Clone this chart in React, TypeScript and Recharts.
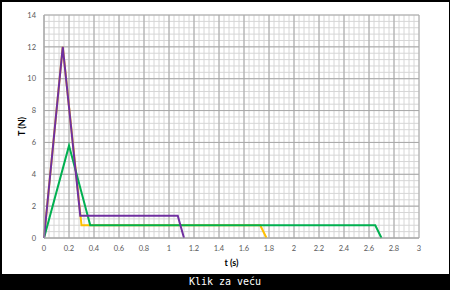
import { LineChart, Line, XAxis, YAxis, ReferenceLine } from "recharts";

const xTicks = [0, 0.2, 0.4, 0.6, 0.8, 1, 1.2, 1.4, 1.6, 1.8, 2, 2.2, 2.4, 2.6, 2.8, 3];
const yTicks = [0, 2, 4, 6, 8, 10, 12, 14];

// series (t in s, T in N)
const tYellow = [0, 0.15, 0.3, 1.73, 1.78];
const fYellow = [0, 12, 0.8, 0.8, 0];
const tGreen = [0, 0.2, 0.37, 2.65, 2.7];
const fGreen = [0, 5.8, 0.8, 0.8, 0];
const tPurple = [0, 0.15, 0.29, 1.07, 1.12];
const fPurple = [0, 12, 1.4, 1.4, 0];

const toPoints = (ts: number[], fs: number[]) => ts.map((t, i) => ({ t, f: fs[i] }));

// excel-style minor gridlines: major unit / 5
const minorX = Array.from({ length: 76 }, (_, i) => Math.round(i * 4) / 100);
const minorY = Array.from({ length: 36 }, (_, i) => Math.round(i * 4) / 10);

const tickStyle = { fill: "#595959", fontSize: 7.5, fontFamily: "Lato" };
const fmt = (v: number) => `${Math.round(v * 10) / 10}`;
const majorStroke = "#a8a8a8";
const minorStroke = "#d6d6d6";

export default function App() {
  return (
    <div
      style={{
        position: "fixed",
        left: 0,
        top: 0,
        width: 450,
        height: 290,
        background: "#000",
      }}
    >
      <div
        style={{
          position: "absolute",
          left: 2,
          top: 2,
          width: 447,
          height: 272,
          background: "#fff",
        }}
      >
        <LineChart
          width={447}
          height={272}
          margin={{ top: 13, right: 30, bottom: 0, left: 0 }}
        >
          {minorX.map((x) => (
            <ReferenceLine key={`mx${x}`} x={x} stroke={minorStroke} />
          ))}
          {minorY.map((y) => (
            <ReferenceLine key={`my${y}`} y={y} stroke={minorStroke} />
          ))}
          {xTicks.map((x) => (
            <ReferenceLine key={`vx${x}`} x={x} stroke={majorStroke} />
          ))}
          {yTicks.map((y) => (
            <ReferenceLine key={`hy${y}`} y={y} stroke={majorStroke} />
          ))}
          <XAxis
            dataKey="t"
            type="number"
            domain={[0, 3]}
            ticks={xTicks}
            tickFormatter={fmt}
            tick={tickStyle}
            tickLine={false}
            axisLine={{ stroke: majorStroke }}
            height={36}
            allowDuplicatedCategory={false}
            label={{
              value: "t (s)",
              position: "insideBottom",
              offset: 8,
              style: { fill: "#000", fontSize: 9, fontWeight: "bold", fontFamily: "Lato" },
            }}
          />
          <YAxis
            dataKey="f"
            type="number"
            domain={[0, 14]}
            ticks={yTicks}
            tick={tickStyle}
            tickLine={false}
            axisLine={{ stroke: majorStroke }}
            width={42}
            label={{
              value: "T (N)",
              angle: -90,
              position: "insideLeft",
              offset: 20,
              style: {
                fill: "#000",
                fontSize: 9,
                fontWeight: "bold",
                fontFamily: "Lato",
                textAnchor: "middle",
              },
            }}
          />
          <Line
            data={toPoints(tYellow, fYellow)}
            dataKey="f"
            stroke="#FFC000"
            strokeWidth={2}
            dot={false}
            isAnimationActive={false}
          />
          <Line
            data={toPoints(tGreen, fGreen)}
            dataKey="f"
            stroke="#00B050"
            strokeWidth={2}
            dot={false}
            isAnimationActive={false}
          />
          <Line
            data={toPoints(tPurple, fPurple)}
            dataKey="f"
            stroke="#7030A0"
            strokeWidth={2}
            dot={false}
            isAnimationActive={false}
          />
        </LineChart>
      </div>
      <div
        style={{
          position: "absolute",
          left: 0,
          top: 274,
          width: 450,
          height: 16,
          lineHeight: "16px",
          textAlign: "center",
          color: "#fff",
          fontFamily: "DejaVu Sans Mono",
          fontSize: 10,
        }}
      >
        Klik za veću
      </div>
    </div>
  );
}
